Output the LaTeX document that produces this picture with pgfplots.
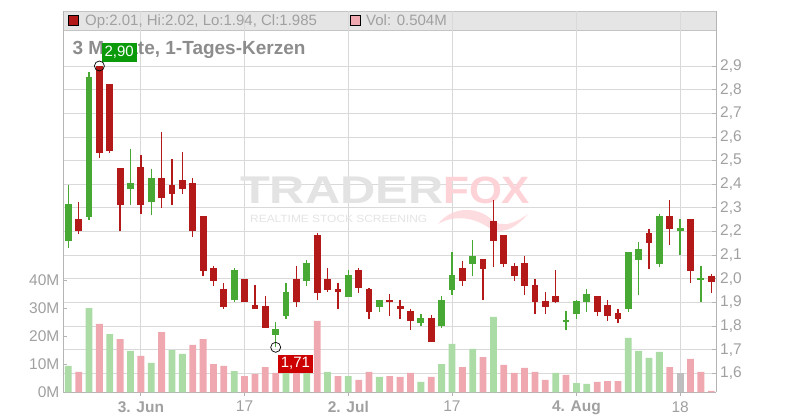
\documentclass[border=0pt]{standalone}
\usepackage{pgfplots}
\pgfplotsset{compat=1.18}
\usepackage{pgfplotstable}
\usepackage{fontspec}
\setmainfont{Liberation Sans}
\definecolor{cgreen}{HTML}{48A834}
\definecolor{cred}{HTML}{B41919}
\definecolor{vgreen}{HTML}{ABDCA6}
\definecolor{vred}{HTML}{EFA8B0}
\definecolor{vgrey}{HTML}{BEBEBE}
\definecolor{gridgrey}{HTML}{D9D9D9}
\definecolor{axisgrey}{HTML}{B4B4B4}
\definecolor{textgrey}{HTML}{A0A0A0}
\definecolor{titlegrey}{HTML}{8C8C8C}
\definecolor{bandgrey}{HTML}{E5E5E5}
\definecolor{bandborder}{HTML}{C4C4C4}
\definecolor{wmgrey}{HTML}{E3E3E3}
\definecolor{wmpink}{HTML}{FDD3D8}
\definecolor{lblgreen}{HTML}{0A9A0A}
\definecolor{lblred}{HTML}{CC0000}

% up candles (close >= open)
\pgfplotstableread{
i o h l c
0 2.160 2.395 2.130 2.315
2 2.261 2.873 2.249 2.853
6 2.380 2.548 2.312 2.404
8 2.325 2.463 2.270 2.425
16 1.910 2.044 1.901 2.035
20 1.761 1.815 1.710 1.787
21 1.842 1.984 1.830 1.942
23 1.990 2.078 1.969 2.065
27 1.922 2.035 1.922 2.014
30 1.880 1.912 1.859 1.912
34 1.812 1.853 1.800 1.832
36 1.800 1.925 1.791 1.912
37 1.952 2.112 1.931 2.014
39 2.061 2.162 2.010 2.095
48 1.821 1.862 1.782 1.823
49 1.850 1.912 1.829 1.904
50 1.901 1.955 1.859 1.934
54 1.871 2.112 1.859 2.112
55 2.078 2.154 1.931 2.124
57 2.061 2.273 2.048 2.264
59 2.200 2.251 2.099 2.213
61 2.000 2.052 1.901 2.000
}\upcandles

% down candles (close < open)
\pgfplotstableread{
i o h l c
1 2.251 2.325 2.188 2.202
3 2.900 2.900 2.510 2.531
4 2.823 2.823 2.531 2.541
5 2.467 2.467 2.202 2.312
7 2.472 2.523 2.273 2.312
9 2.425 2.621 2.300 2.342
10 2.395 2.506 2.312 2.359
11 2.417 2.535 2.359 2.380
12 2.404 2.425 2.177 2.202
13 2.264 2.264 2.011 2.032
14 2.044 2.056 1.969 1.990
15 1.955 1.984 1.871 1.880
17 2.001 2.001 1.901 1.901
18 1.891 1.972 1.871 1.871
19 1.883 1.925 1.791 1.791
22 2.001 2.052 1.880 1.901
24 2.184 2.192 1.910 1.939
25 2.001 2.044 1.944 1.952
26 1.955 1.984 1.871 1.944
28 2.035 2.044 1.939 1.960
29 1.955 1.963 1.830 1.859
31 1.912 1.934 1.842 1.901
32 1.883 1.910 1.830 1.871
33 1.862 1.874 1.782 1.821
35 1.832 1.845 1.732 1.732
38 2.044 2.073 1.969 1.990
40 2.082 2.082 1.910 2.040
41 2.243 2.332 2.048 2.160
42 2.184 2.184 2.048 2.061
43 2.052 2.065 1.990 2.010
44 2.065 2.095 1.931 1.969
45 1.972 2.001 1.850 1.901
46 1.904 1.942 1.850 1.880
47 1.925 2.035 1.897 1.901
51 1.925 1.925 1.842 1.859
52 1.891 1.912 1.821 1.842
53 1.857 1.874 1.812 1.829
56 2.192 2.209 2.040 2.150
58 2.264 2.332 2.141 2.209
60 2.251 2.251 1.980 2.031
62 2.010 2.020 1.940 1.985
}\downcandles

\pgfplotsset{
  base/.style={
    scale only axis, width=653pt, height=380.8pt,
    at={(63pt,27.7pt)}, anchor=south west,
    xmin=-0.51, xmax=62.46,
  },
  candle/.style 2 args={only marks, mark=*, mark size=0pt, mark options={draw=none, fill=none}, forget plot,
    error bars/.cd, y dir=both, y explicit, error mark=none,
    error bar style={draw=#1, line width=#2}},
}

\begin{document}
\begin{tikzpicture}
\path[use as bounding box] (0,0) rectangle (800pt,420pt);
% header band
\fill[bandgrey] (63pt,389.5pt) rectangle (716pt,408.5pt);
\draw[bandborder, line width=0.8pt] (63pt,389.5pt) rectangle (716pt,408.5pt);

% price grid axis
\begin{axis}[base, ymin=1.5197, ymax=3.1305,
  axis x line*=bottom, axis y line*=right,
  axis line style={draw=axisgrey, line width=0.9pt},
  xtick={7,17,27,37,49,59},
  xticklabels={\textbf{3. Jun},17,\textbf{2. Jul},17,\textbf{4. Aug},18},
  ytick={1.6,1.7,1.8,1.9,2.0,2.1,2.2,2.3,2.4,2.5,2.6,2.7,2.8,2.9},
  yticklabels={{1,6},{1,7},{1,8},{1,9},{2,0},{2,1},{2,2},{2,3},{2,4},{2,5},{2,6},{2,7},{2,8},{2,9}},
  grid=major, major grid style={draw=gridgrey, line width=0.8pt},
  tick style={draw=axisgrey, line width=0.8pt},
  major tick length=4pt,
  xtick align=outside, ytick align=inside,
  yticklabel pos=right,
  ticklabel style={font=\fontsize{15.5}{16}\selectfont, text=textgrey},
  yticklabel style={inner sep=0pt, anchor=west, xshift=4pt},
  xticklabel style={inner sep=0pt, anchor=north, yshift=-4.7pt},
]
\addplot[draw=none, forget plot] coordinates {(0,2)};
\end{axis}

% watermark
\node[anchor=base west, inner sep=0pt, text=wmgrey, font=\bfseries] at (240pt,216.7pt) {\resizebox{203pt}{26.6pt}{TRADER}};
\node[anchor=base west, inner sep=0pt, text=wmpink, font=\bfseries] at (443pt,216.7pt) {\resizebox{87pt}{26.6pt}{FOX}};
\node[anchor=base west, inner sep=0pt, text=wmgrey] at (250pt,197.7pt) {\resizebox{177pt}{7.3pt}{REALTIME STOCK SCREENING}};
\fill[wmpink, opacity=0.8] (438pt,196pt) .. controls (452pt,214pt) and (478pt,214pt) .. (492pt,200pt)
  .. controls (502pt,192pt) and (514pt,196pt) .. (528pt,206pt)
  .. controls (514pt,190pt) and (500pt,184pt) .. (486pt,194pt)
  .. controls (470pt,204pt) and (452pt,204pt) .. (438pt,196pt) -- cycle;

% title
\node[anchor=base west, inner sep=0pt, text=titlegrey, font=\bfseries\fontsize{19}{19}\selectfont] at (72.3pt,365pt) {3 Monate, 1-Tages-Kerzen};

% volume axis
\begin{axis}[base, ymin=0, ymax=136,
  axis x line=none, axis y line*=left,
  axis line style={draw=axisgrey, line width=0.9pt},
  ytick={0,10,20,30,40},
  yticklabels={0M,10M,20M,30M,40M},
  tick style={draw=axisgrey, line width=0.8pt},
  major tick length=4pt, ytick align=inside,
  yticklabel style={font=\fontsize{15.5}{16}\selectfont, text=textgrey, inner sep=0pt, anchor=east, xshift=-3.5pt},
]
\addplot[ybar, bar width=6.8pt, bar shift=0pt, fill=vgreen, draw=none] coordinates {
(0,9.4) (2,30.1) (4,20.8) (6,14.8) (8,10.5) (10,15.1) (11,13.7) (16,7.6) (21,7.4) (23,7.6)
(25,7.3) (27,5.8) (30,5.5) (34,3.7) (36,10.1) (37,17.3) (39,15.5) (41,26.9) (47,6.9)
(49,3.3) (50,3.0) (54,19.4) (55,14.8) (56,12.3) (57,14.4)};
\addplot[ybar, bar width=6.8pt, bar shift=0pt, fill=vred, draw=none] coordinates {
(1,7.3) (3,24.4) (5,19.0) (7,13.0) (9,21.5) (12,16.9) (13,19.0) (14,10.1) (15,9.4) (17,5.8)
(18,6.5) (19,9.0) (20,6.9) (22,7.3) (24,25.5) (26,5.8) (28,4.4) (29,7.3) (31,5.8) (32,5.5)
(33,6.9) (35,5.5) (38,9.0) (40,12.6) (42,9.8) (43,6.9) (44,8.7) (45,7.3) (46,4.4) (48,6.2)
(51,3.7) (52,4.0) (53,4.0) (58,9.0) (60,11.9) (61,7.3) (62,0.504)};
\addplot[ybar, bar width=6.8pt, bar shift=0pt, fill=vgrey, draw=none] coordinates {(59,6.9)};
\end{axis}

% candles axis
\begin{axis}[base, ymin=1.5197, ymax=3.1305, hide axis]
% wicks
\addplot[candle={cgreen}{1.3pt}]
  table[x=i, y expr={(\thisrow{h}+\thisrow{l})/2}, y error expr={(\thisrow{h}-\thisrow{l})/2}] {\upcandles};
\addplot[candle={cred}{1.3pt}]
  table[x=i, y expr={(\thisrow{h}+\thisrow{l})/2}, y error expr={(\thisrow{h}-\thisrow{l})/2}] {\downcandles};
% bodies
\addplot[candle={cgreen}{6.8pt}]
  table[x=i, y expr={(\thisrow{o}+\thisrow{c})/2}, y error expr={max(abs(\thisrow{c}-\thisrow{o})/2,0.0025)}] {\upcandles};
\addplot[candle={cred}{6.8pt}]
  table[x=i, y expr={(\thisrow{o}+\thisrow{c})/2}, y error expr={max(abs(\thisrow{c}-\thisrow{o})/2,0.0025)}] {\downcandles};
% high / low markers
\addplot[only marks, mark=o, mark size=5pt, draw=black, line width=0.7pt] coordinates {(3,2.90) (20,1.71)};
\node[fill=lblgreen, text=white, anchor=south west, inner xsep=3pt, inner ysep=3pt, font=\fontsize{15}{15}\selectfont, xshift=2pt, yshift=4pt] at (axis cs:3,2.90) {2,90};
\node[fill=lblred, text=white, anchor=north west, inner xsep=3pt, inner ysep=3pt, font=\fontsize{15}{15}\selectfont, xshift=2pt, yshift=-7pt] at (axis cs:20,1.71) {1,71};
\end{axis}

% header text
\filldraw[fill=cred, draw=black, line width=0.6pt] (68.5pt,394.5pt) rectangle (78.5pt,404.5pt);
\node[anchor=base west, inner sep=0pt, text=textgrey, font=\fontsize{15}{15}\selectfont] at (85pt,394pt) {Op:2.01, Hi:2.02, Lo:1.94, Cl:1.985};
\filldraw[fill=vred, draw=black, line width=0.6pt] (350.5pt,394.5pt) rectangle (360.5pt,404.5pt);
\node[anchor=base west, inner sep=0pt, text=textgrey, font=\fontsize{15}{15}\selectfont] at (366pt,394pt) {Vol: 0.504M};
\end{tikzpicture}
\end{document}
